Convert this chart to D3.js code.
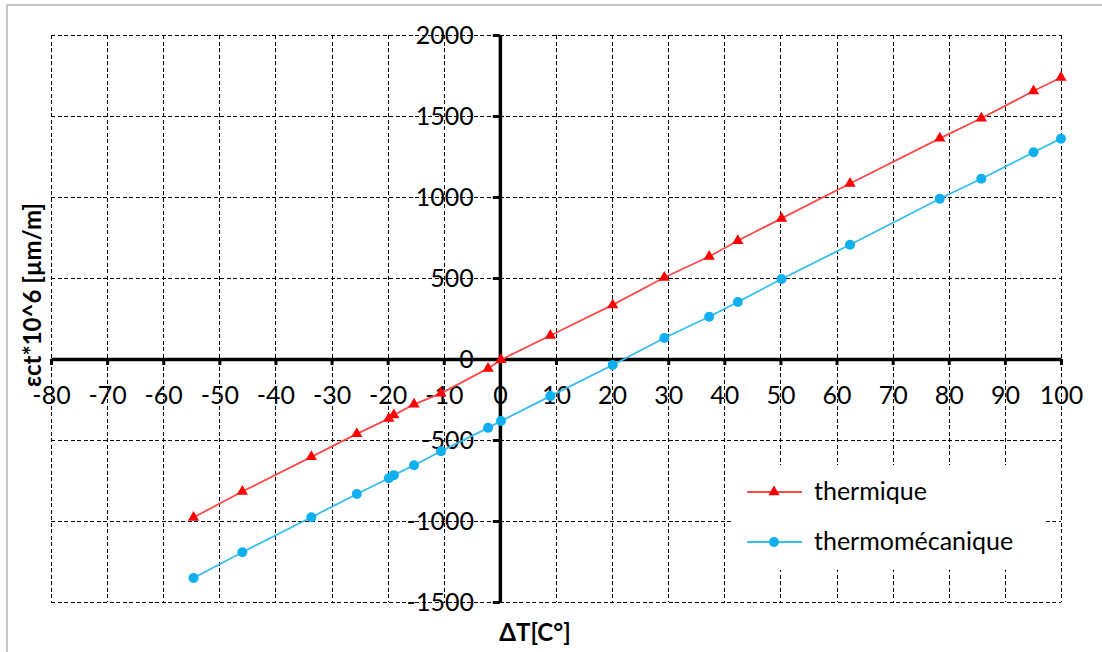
<!DOCTYPE html>
<html>
<head>
<meta charset="utf-8">
<script src="https://cdn.jsdelivr.net/npm/d3@7"></script>
<style>
  body { margin: 0; background: #fff; }
  text { font-family: Lato, "Open Sans", sans-serif; fill: #000; }
</style>
</head>
<body>
<div id="chart"></div>
<script>
// data
const deltaT = [-54.6, -45.9, -33.6, -25.5, -19.8, -18.9, -15.3, -10.5, -2.1, 0.2, 9, 20.1, 29.3, 37.3, 42.4, 50.2, 62.4, 78.4, 85.8, 95.1, 100];
const thermique = [-978, -818, -604, -462, -368, -346, -280, -212, -58, -5, 145, 334, 503, 633, 730, 868, 1083, 1362, 1486, 1654, 1738];
const thermomecanique = [-1352, -1193, -977, -833, -736, -717, -656, -569, -425, -383, -229, -37, 130, 261, 352, 494, 705, 989, 1113, 1276, 1360];

const xTicks = [-80, -70, -60, -50, -40, -30, -20, -10, 0, 10, 20, 30, 40, 50, 60, 70, 80, 90, 100];
const yTicks = [-1500, -1000, -500, 0, 500, 1000, 1500, 2000];

const seriesNames = ["thermique", "thermomécanique"];

const W = 1102, H = 652;

const svg = d3.select("#chart")
  .append("svg")
  .attr("width", W)
  .attr("height", H);

// outer frame
svg.append("rect")
  .attr("x", 7).attr("y", 5)
  .attr("width", 1200).attr("height", 700)
  .attr("fill", "none")
  .attr("stroke", "#b4b4b4")
  .attr("stroke-width", 1.5);

const x = d3.scaleLinear().domain([-80, 100]).range([51, 1061]);
const y = d3.scaleLinear().domain([-1500, 2000]).range([602, 35]);

// dashed grid
const grid = svg.append("g")
  .attr("stroke", "#000")
  .attr("stroke-width", 1)
  .attr("shape-rendering", "crispEdges")
  .attr("stroke-dasharray", "4,2.5");

grid.selectAll(".vg")
  .data(xTicks.filter(d => d !== 0))
  .join("line")
  .attr("x1", d => Math.round(x(d)) + 0.5).attr("x2", d => Math.round(x(d)) + 0.5)
  .attr("y1", y(2000)).attr("y2", y(-1500));

grid.selectAll(".hg")
  .data(yTicks.filter(d => d !== 0))
  .join("line")
  .attr("x1", x(-80)).attr("x2", x(100))
  .attr("y1", d => Math.round(y(d)) + 0.5).attr("y2", d => Math.round(y(d)) + 0.5);

// axes crossing at origin
const yAxis = svg.append("g")
  .attr("transform", `translate(${x(0)},0)`)
  .call(d3.axisLeft(y).tickValues(yTicks).tickSize(7).tickSizeOuter(0).tickPadding(19).tickFormat(d => String(d)));

const xAxis = svg.append("g")
  .attr("transform", `translate(0,${y(0)})`)
  .call(d3.axisBottom(x).tickValues(xTicks).tickSize(6).tickSizeOuter(0).tickPadding(21).tickFormat(d => String(d)));

[xAxis, yAxis].forEach(a => {
  a.select(".domain").attr("stroke", "#000").attr("stroke-width", 3.5);
  a.selectAll(".tick line").attr("stroke", "#000").attr("stroke-width", 3);
  a.selectAll(".tick text").attr("font-size", 25).attr("fill", "#000")
    .style("font-family", "Lato, sans-serif");
});

// series
const colors = { line: ["#ff4a4a", "#33bdf0"], mark: ["#ff0000", "#10b0f0"] };
const lineGen = d3.line().x(d => x(d[0])).y(d => y(d[1]));

[thermique, thermomecanique].forEach((vals, i) => {
  const pts = deltaT.map((t, k) => [t, vals[k]]);
  svg.append("path")
    .datum(pts)
    .attr("fill", "none")
    .attr("stroke", colors.line[i])
    .attr("stroke-width", 1.8)
    .attr("d", lineGen);

  if (i === 0) {
    svg.selectAll(".tri")
      .data(pts)
      .join("path")
      .attr("class", "tri")
      .attr("transform", d => `translate(${x(d[0])},${y(d[1])})`)
      .attr("d", d3.symbol(d3.symbolTriangle).size(55))
      .attr("fill", colors.mark[i]);
  } else {
    svg.selectAll(".dot")
      .data(pts)
      .join("circle")
      .attr("class", "dot")
      .attr("cx", d => x(d[0]))
      .attr("cy", d => y(d[1]))
      .attr("r", 5)
      .attr("fill", colors.mark[i]);
  }
});

// legend
const legend = svg.append("g");
legend.append("rect")
  .attr("x", 733).attr("y", 465)
  .attr("width", 310).attr("height", 105)
  .attr("fill", "#fff");

seriesNames.forEach((name, i) => {
  const ly = 492 + i * 50;
  legend.append("line")
    .attr("x1", 747).attr("x2", 802)
    .attr("y1", ly).attr("y2", ly)
    .attr("stroke", colors.line[i])
    .attr("stroke-width", 1.8);
  if (i === 0) {
    legend.append("path")
      .attr("transform", `translate(774,${ly})`)
      .attr("d", d3.symbol(d3.symbolTriangle).size(55))
      .attr("fill", colors.mark[i]);
  } else {
    legend.append("circle")
      .attr("cx", 774).attr("cy", ly).attr("r", 5)
      .attr("fill", colors.mark[i]);
  }
  legend.append("text")
    .attr("x", 814).attr("y", ly)
    .attr("dy", "0.32em")
    .attr("font-size", 25)
    .text(name);
});

// axis titles
svg.append("text")
  .attr("transform", "translate(33,295) rotate(-90)")
  .attr("text-anchor", "middle")
  .attr("dy", "0.35em")
  .attr("font-size", 24)
  .attr("font-weight", "bold")
  .text("εct*10^6 [µm/m]");

svg.append("text")
  .attr("x", 535).attr("y", 633)
  .attr("text-anchor", "middle")
  .attr("dy", "0.35em")
  .attr("font-size", 24)
  .attr("font-weight", "bold")
  .text("ΔT[C°]");
</script>
</body>
</html>
